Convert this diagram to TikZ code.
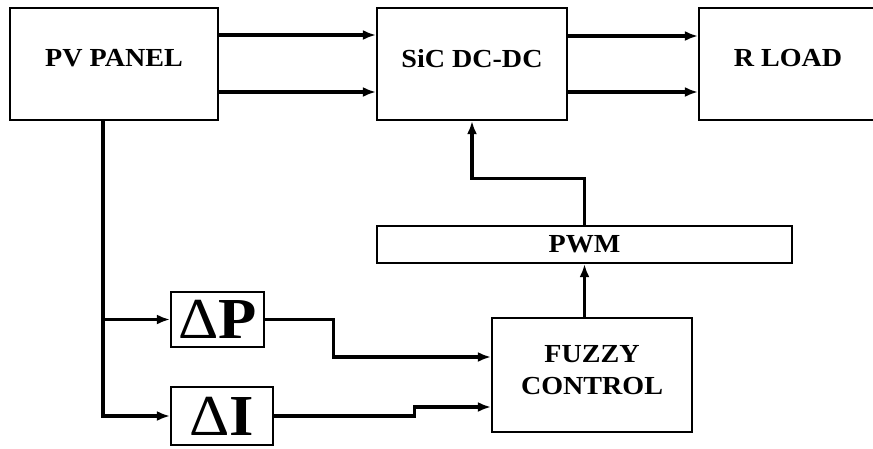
\documentclass[tikz,border=0pt]{standalone}
\usepackage{fontspec}
\setmainfont{Liberation Serif}[FakeStretch=1.08]
\usetikzlibrary{arrows.meta}
\begin{document}
\begin{tikzpicture}[x=1pt,y=-1pt,
  blk/.style={draw=black,line width=2.2pt,fill=white,inner sep=0pt,
    font=\fontsize{26}{32}\selectfont\bfseries},
  topblk/.style={blk,minimum height=112pt,text depth=12pt},
  dblk/.style={draw=black,line width=2.2pt,inner sep=0pt,
    font=\fontsize{58}{60}\selectfont},
  conn/.style={line width=3.2pt},
  arr/.style={conn,-{Latex[length=13pt,width=10pt]}}]
\useasboundingbox[clip] (0,0) rectangle (873,448);
\fill[white] (0,0) rectangle (873,448);
% blocks
\node[topblk,minimum width=208pt] (pv) at (114,64) {PV PANEL};
\node[topblk,minimum width=190pt] (sic) at (472,64) {SiC DC-DC};
\node[topblk,minimum width=178pt] (rl) at (788,64) {R LOAD};
\node[blk,minimum width=415pt,minimum height=37pt] (pwm) at (584.5,244.5) {PWM};
\node[blk,minimum width=200pt,minimum height=114pt,align=center,text depth=11pt] (fz) at (592,375) {FUZZY\\CONTROL};
\node[dblk,minimum width=93pt,minimum height=55pt] (dp) at (217.5,319.5) {Δ\textbf{P}};
\node[dblk,minimum width=102pt,minimum height=58pt] (di) at (222,416) {Δ\textbf{I}};
% PV -> SiC
\draw[arr] ([yshift=29pt]pv.east) -- ([yshift=29pt]sic.west);
\draw[arr] ([yshift=-28pt]pv.east) -- ([yshift=-28pt]sic.west);
% SiC -> R load
\draw[arr] ([yshift=28pt]sic.east) -- ([yshift=28pt]rl.west);
\draw[arr] ([yshift=-28pt]sic.east) -- ([yshift=-28pt]rl.west);
% PWM -> SiC
\draw[arr] (pwm.north) |- ([yshift=-57pt]sic.south) -- (sic.south);
% Fuzzy -> PWM
\draw[arr] (fz.north -| pwm.south) -- (pwm.south);
% PV bus
\coordinate (bustop) at ([xshift=-11pt]pv.south);
\draw[arr] (bustop) |- (di.west);
\draw[arr] (bustop |- dp.west) -- (dp.west);
% Delta P / Delta I -> Fuzzy
\draw[arr] (dp.east) -- ++(68,0) |- ([yshift=18pt]fz.west);
\draw[arr] (di.east) -- ++(140,0) |- ([yshift=-32pt]fz.west);
\end{tikzpicture}
\end{document}
